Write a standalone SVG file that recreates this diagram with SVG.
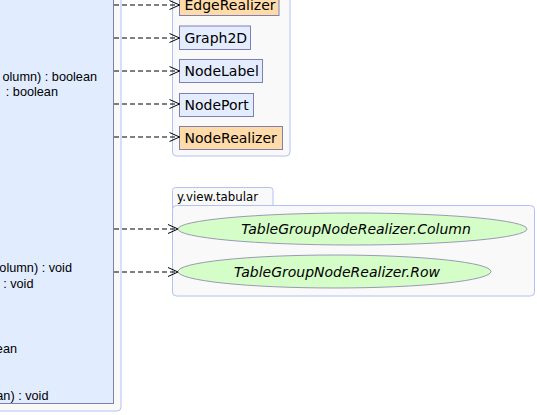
<svg xmlns="http://www.w3.org/2000/svg" width="537" height="415" viewBox="0 0 537 415">
<style>
.pkg{fill:#f9f9fa;stroke:#b4c0f4;stroke-width:1}
.cls{fill:#e1ecff;stroke:#7f80b0;stroke-width:1}
.blue{fill:#e4edff;stroke:#7f80b0;stroke-width:1}
.orange{fill:#ffdba9;stroke:#7f80b0;stroke-width:1}
.ell{fill:#d4fdc8;stroke:#9a9ab4;stroke-width:1}
.mem{font-family:"Liberation Sans",Arial,sans-serif;font-size:12.7px;fill:#000;text-anchor:end}
.lbl{font-family:"DejaVu Sans",Verdana,sans-serif;font-size:14px;fill:#000}
.ital{font-family:"DejaVu Sans",Verdana,sans-serif;font-size:14px;font-style:italic;fill:#000;text-anchor:middle}
.tab{font-family:"DejaVu Sans",Verdana,sans-serif;font-size:11.8px;fill:#000}
.dep{fill:none;stroke:#000;stroke-width:1;stroke-dasharray:5,3;marker-end:url(#open)}
</style>
<defs>
<marker id="open" markerUnits="userSpaceOnUse" markerWidth="12" markerHeight="11" refX="11" refY="5" orient="auto">
<path d="M1,0.5 L11,5 L1,9.5" fill="none" stroke="#000" stroke-width="1"/>
</marker>
</defs>
<rect width="537" height="415" fill="#fff"/>
<g id="pkg-main">
<rect class="pkg" x="-20" y="-20" width="141" height="431" rx="4"/>
</g>
<g id="class-main">
<rect class="cls" x="-10" y="-10" width="123.5" height="413.5"/>
<text class="mem" x="97" y="81">olumn) : boolean</text>
<text class="mem" x="58" y="96">: boolean</text>
<text class="mem" x="72" y="272">olumn) : void</text>
<text class="mem" x="33.5" y="288">: void</text>
<text class="mem" x="17" y="352.5">ean</text>
<text class="mem" x="48.5" y="399.5">an) : void</text>
</g>
<g id="pkg-view">
<rect class="pkg" x="172.5" y="-20" width="117.5" height="176" rx="4"/>
</g>
<g id="node-edgerealizer">
<rect class="orange" x="179.5" y="-7.5" width="99.5" height="23"/>
<text class="lbl" x="184.5" y="10">EdgeRealizer</text>
</g>
<g id="node-graph2d">
<rect class="blue" x="179.5" y="26" width="71" height="23.5"/>
<text class="lbl" x="184.5" y="43">Graph2D</text>
</g>
<g id="node-nodelabel">
<rect class="blue" x="179.5" y="59.5" width="83" height="23"/>
<text class="lbl" x="184.5" y="76">NodeLabel</text>
</g>
<g id="node-nodeport">
<rect class="blue" x="179.5" y="93.5" width="74" height="23"/>
<text class="lbl" x="184.5" y="110">NodePort</text>
</g>
<g id="node-noderealizer">
<rect class="orange" x="179.5" y="126.5" width="103" height="23"/>
<text class="lbl" x="184.5" y="143">NodeRealizer</text>
</g>
<g id="pkg-tabular">
<rect class="pkg" x="172.5" y="187.5" width="100.5" height="24" rx="3"/>
<rect class="pkg" x="172.5" y="205.5" width="362" height="90.5" rx="4"/>
<text class="tab" x="177" y="200.5">y.view.tabular</text>
</g>
<g id="node-column">
<ellipse class="ell" cx="352.5" cy="229" rx="174.5" ry="16"/>
<text class="ital" x="356" y="234">TableGroupNodeRealizer.Column</text>
</g>
<g id="node-row">
<ellipse class="ell" cx="334.5" cy="271.5" rx="156.5" ry="16.5"/>
<text class="ital" x="337" y="276.5">TableGroupNodeRealizer.Row</text>
</g>
<g id="connectors">
<line class="dep" x1="114" y1="5" x2="179.5" y2="5"/>
<line class="dep" x1="114" y1="38" x2="179.5" y2="38"/>
<line class="dep" x1="114" y1="71" x2="179.5" y2="71"/>
<line class="dep" x1="114" y1="104" x2="179.5" y2="104"/>
<line class="dep" x1="114" y1="137" x2="179.5" y2="137"/>
<line class="dep" x1="114" y1="229" x2="178" y2="229"/>
<line class="dep" x1="114" y1="272" x2="178" y2="272"/>
</g>
</svg>
